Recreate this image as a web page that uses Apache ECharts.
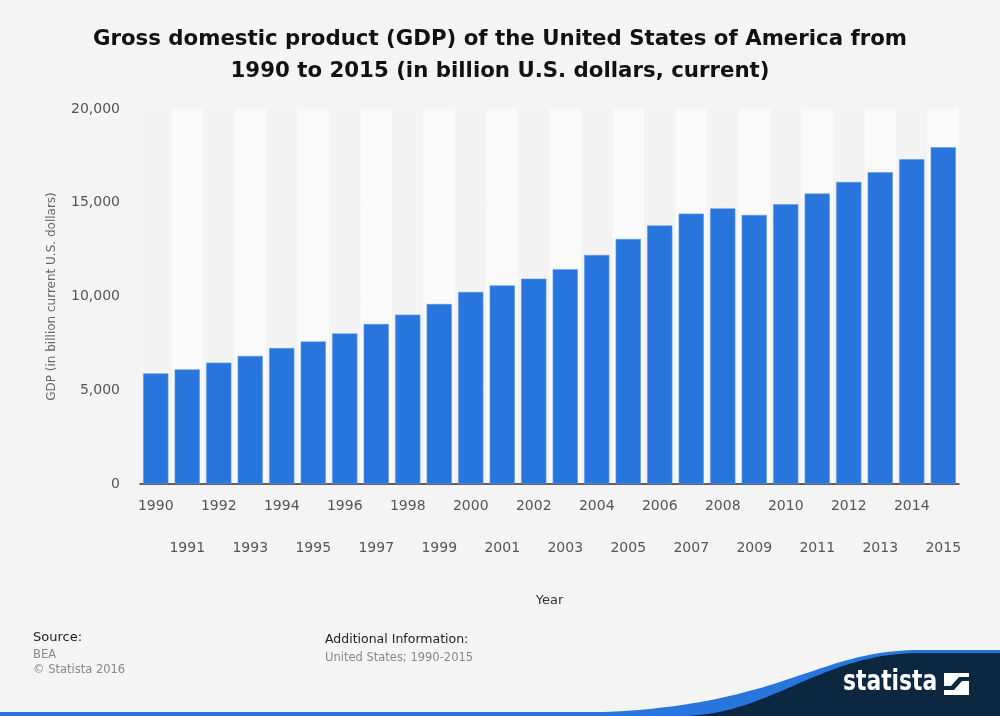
<!DOCTYPE html>
<html>
<head>
<meta charset="utf-8">
<script src="https://cdn.jsdelivr.net/npm/echarts@6/dist/echarts.min.js"></script>
<style>html,body{margin:0;padding:0;background:#f4f4f4;}#c{width:1000px;height:716px;}</style>
</head>
<body>
<div id="c"></div>
<script>
const years = ['1990','1991','1992','1993','1994','1995','1996','1997','1998','1999','2000','2001','2002','2003','2004','2005','2006','2007','2008','2009','2010','2011','2012','2013','2014','2015'];
const gdp = [5900,6110,6470,6830,7250,7600,8030,8530,9030,9600,10240,10590,10950,11450,12210,13070,13790,14420,14700,14350,14920,15490,16110,16630,17320,17960];
const yTicks = [0,5000,10000,15000,20000];

const titleText = 'Gross domestic product (GDP) of the United States of America from\n1990 to 2015 (in billion U.S. dollars, current)';

function bez(p0,p1,p2,p3,n){
  const pts=[];
  for(let i=0;i<=n;i++){const t=i/n,u=1-t;
    pts.push([u*u*u*p0[0]+3*u*u*t*p1[0]+3*u*t*t*p2[0]+t*t*t*p3[0],
              u*u*u*p0[1]+3*u*u*t*p1[1]+3*u*t*t*p2[1]+t*t*t*p3[1]]);}
  return pts;
}
const bluePts = [[560,716]].concat(bez([560,713],[780,713],[810,650],[920,650],50)).concat([[1000,650],[1000,716]]);
const darkPts = [[680,716]].concat(bez([680,716],[770,716],[820,653],[920,653],50)).concat([[1000,653],[1000,716]]);

const chart = echarts.init(document.getElementById('c'), null, {renderer:'canvas'});
chart.setOption({
  backgroundColor:'#f4f4f4',
  animation:false,
  title:{text:titleText,left:'center',top:18,textStyle:{fontFamily:'DejaVu Sans',fontWeight:'bold',fontSize:21.3,lineHeight:32,color:'#111'}},
  grid:{left:140,right:41,top:109,bottom:232,containLabel:false},
  xAxis:{type:'category',data:years,
    name:'Year',nameLocation:'middle',nameGap:110,nameTextStyle:{fontFamily:'DejaVu Sans',fontSize:13,color:'#333'},
    axisLine:{lineStyle:{color:'#333',width:1.5}},axisTick:{show:false},
    axisLabel:{interval:0,margin:11.5,lineHeight:21,fontFamily:'DejaVu Sans',fontSize:14,color:'#555',
      formatter:(v,i)=> i%2 ? '\n\n'+v : v},
    splitArea:{show:true,areaStyle:{color:['#f3f3f3','#fafafa']}}},
  yAxis:{type:'value',min:0,max:20000,interval:5000,
    name:'GDP (in billion current U.S. dollars)',nameLocation:'middle',nameGap:82,nameRotate:90,
    nameTextStyle:{fontFamily:'DejaVu Sans',fontSize:12,color:'#666'},
    axisLine:{show:false},axisTick:{show:false},
    axisLabel:{margin:20,fontFamily:'DejaVu Sans',fontSize:14,color:'#555',
      formatter:v=>yTicks.indexOf(v)>=0 ? v.toLocaleString('en-US') : ''},
    splitLine:{lineStyle:{color:'#c4c4c4',type:'dotted',width:1}}},
  series:[{type:'bar',data:gdp,barCategoryGap:'20%',
    itemStyle:{color:'#2876dd',borderColor:'#5e98e6',borderWidth:0.6}}],
  graphic:[
    {type:'text',left:33,top:631,style:{text:'Source:',font:'13px "DejaVu Sans"',fill:'#222'}},
    {type:'text',left:33,top:649,style:{text:'BEA',font:'11.5px "DejaVu Sans"',fill:'#888'}},
    {type:'text',left:33,top:664,style:{text:'© Statista 2016',font:'11.5px "DejaVu Sans"',fill:'#888'}},
    {type:'text',left:325,top:633,style:{text:'Additional Information:',font:'12.5px "DejaVu Sans"',fill:'#222'}},
    {type:'text',left:325,top:652,style:{text:'United States; 1990-2015',font:'11.5px "DejaVu Sans"',fill:'#888'}},
    {type:'rect',shape:{x:0,y:712,width:1000,height:4},style:{fill:'#2876dd'}},
    {type:'polygon',shape:{points:bluePts},style:{fill:'#2876dd'}},
    {type:'polygon',shape:{points:darkPts},style:{fill:'#0c2740'}},
    {type:'text',x:843,y:669,scaleX:0.78,style:{text:'statista',font:'bold 28px "DejaVu Sans"',fill:'#fff'}},
    {type:'rect',shape:{x:944,y:673,width:25,height:22},style:{fill:'#fff'}},
    {type:'polygon',shape:{points:[[944,686],[951,686],[959,677],[969,677],[969,681],[962,681],[954,690],[944,690]]},style:{fill:'#0c2740'}}
  ]
});
</script>
</body>
</html>
